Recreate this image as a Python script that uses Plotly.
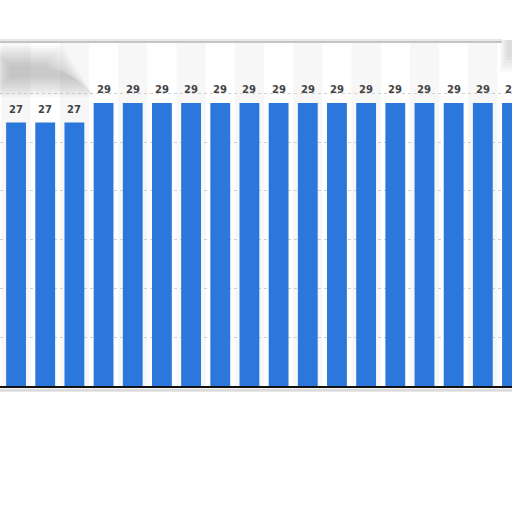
import plotly.graph_objects as go

categories = [f"C{i+1}" for i in range(18)]
values = [27, 27, 27, 29, 29, 29, 29, 29, 29, 29, 29, 29, 29, 29, 29, 29, 29, 29]
grid_ticks = [5, 10, 15, 20, 25, 30]

BAR = "#2b77db"
LABEL = "#444444"

fig = go.Figure()
fig.add_trace(go.Bar(
    x=list(range(len(categories))), y=values,
    marker=dict(color=BAR, line=dict(width=0)),
    width=0.68, hoverinfo="skip",
))

shapes = []
# alternating column stripes
for i in range(0, len(categories), 2):
    shapes.append(dict(type="rect", xref="x", yref="paper", x0=i - 0.5, x1=i + 0.5,
                       y0=0, y1=1, fillcolor="#f7f7f7", line=dict(width=0), layer="below"))
PH = 344.0
PW = 512.0
# blurred blob top-left (layered translucent shapes)
for k in range(10):
    d = k * 2.2
    shapes.append(dict(type="path", xref="paper", yref="paper",
                       path=("M {a},{b} L {c},{b} L {e},{f} L {a},{f} Z").format(
                           a=(-10 + d) / PW, b=(386 - 46 - d) / PH,
                           c=(62 - d) / PW, e=(95 - d) / PW,
                           f=(386 - 97 + d) / PH),
                       fillcolor="#7a7a7a", opacity=0.045, line=dict(width=0), layer="above"))
# soft shadow at top-right corner
for k in range(6):
    d = k * 1.5
    shapes.append(dict(type="rect", xref="paper", yref="paper",
                       x0=(500 + d) / PW, x1=(514) / PW,
                       y0=(386 - 72 + 2 * d) / PH, y1=(386 - 40) / PH,
                       fillcolor="#8a8a8a", opacity=0.05, line=dict(width=0), layer="above"))
# frame top line and bottom shadow
shapes.append(dict(type="line", xref="paper", yref="paper", x0=-0.01, x1=0.98,
                   y0=1.0, y1=1.0, line=dict(color="#c4c4c4", width=2)))
shapes.append(dict(type="line", xref="paper", yref="paper", x0=-0.01, x1=0.98,
                   y0=1.006, y1=1.006, line=dict(color="#e8e8e8", width=2)))
shapes.append(dict(type="line", xref="paper", yref="paper", x0=-0.01, x1=1.0,
                   y0=-0.012, y1=-0.012, line=dict(color="#dcdcdc", width=3)))

annotations = []
for i, v in enumerate(values):
    annotations.append(dict(x=i, y=v, xref="x", yref="y", text="<b>%d</b>" % v, showarrow=False,
                            yanchor="bottom", yshift=6,
                            font=dict(family="DejaVu Sans", size=10, color=LABEL),
                            ))

fig.update_layout(
    width=512, height=512,
    margin=dict(l=0, r=0, t=42, b=126),
    paper_bgcolor="white", plot_bgcolor="white",
    showlegend=False, bargap=0.32,
    shapes=shapes, annotations=annotations,
    xaxis=dict(range=[-0.55, 17.0], showticklabels=False, showgrid=False, zeroline=False,
               showline=True, linecolor="#111111", linewidth=1.5, ticks=""),
    yaxis=dict(range=[0, 35.25], tickvals=grid_ticks, showticklabels=False,
               showgrid=True, gridcolor="#d0d0d0", griddash="dot", gridwidth=1,
               zeroline=False, showline=False, ticks=""),
)
fig.write_html("out.html", config={"displayModeBar": False},
               post_script="document.body.style.margin='0';document.body.style.overflow='hidden';")
